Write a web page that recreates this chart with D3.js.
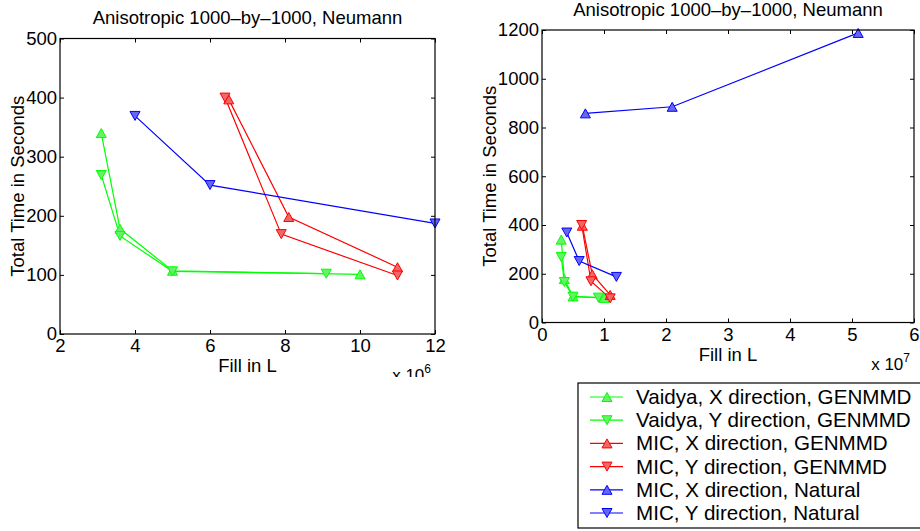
<!DOCTYPE html>
<html>
<head>
<meta charset="utf-8">
<script src="https://cdn.jsdelivr.net/npm/d3@7"></script>
<style>
  body { margin: 0; background: #fff; }
  svg { display: block; font-family: "Liberation Sans", Arial, Helvetica, sans-serif; }
</style>
</head>
<body>
<svg id="chart" width="920" height="531"></svg>
<script>
// fill in L (entries of the factor) vs total time in seconds
const vaidyaXFill = [3.1e6, 3.6e6, 5.0e6, 10.0e6];
const vaidyaXTime = [340, 178, 107, 101];
const vaidyaYFill = [3.1e6, 3.6e6, 5.0e6, 9.1e6];
const vaidyaYTime = [269, 166, 106, 102];
const micXGenFill = [6.5e6, 8.1e6, 11.0e6];
const micXGenTime = [397, 198, 113];
const micYGenFill = [6.4e6, 7.9e6, 11.0e6];
const micYGenTime = [400, 169, 99];
const micXNatFill = [7e6, 21e6, 51e6];
const micXNatTime = [858, 885, 1188];
const micYNatFill = [4e6, 6e6, 12e6];
const micYNatTime = [369, 252, 187];

const seriesNames = [
  "Vaidya, X direction, GENMMD",
  "Vaidya, Y direction, GENMMD",
  "MIC, X direction, GENMMD",
  "MIC, Y direction, GENMMD",
  "MIC, X direction, Natural",
  "MIC, Y direction, Natural"
];

const leftXTicks = [2, 4, 6, 8, 10, 12];     // x 10^6
const leftYTicks = [0, 100, 200, 300, 400, 500];
const rightXTicks = [0, 1, 2, 3, 4, 5, 6];   // x 10^7
const rightYTicks = [0, 200, 400, 600, 800, 1000, 1200];

const titleText = "Anisotropic 1000\u2013by\u20131000, Neumann";

// styles
const styles = [
  {stroke: "#00ff00", fill: "#66f266", up: true},
  {stroke: "#00ff00", fill: "#66f266", up: false},
  {stroke: "#ff0000", fill: "#f26666", up: true},
  {stroke: "#ff0000", fill: "#f26666", up: false},
  {stroke: "#0000ff", fill: "#6666f2", up: true},
  {stroke: "#0000ff", fill: "#6666f2", up: false}
];

const series = [
  [vaidyaXFill, vaidyaXTime], [vaidyaYFill, vaidyaYTime],
  [micXGenFill, micXGenTime], [micYGenFill, micYGenTime],
  [micXNatFill, micXNatTime], [micYNatFill, micYNatTime]
].map((s, i) => ({
  name: seriesNames[i],
  style: styles[i],
  points: s[0].map((f, j) => ({x: f, y: s[1][j]}))
}));

const svg = d3.select("#chart");
const FS = 18.5;

function triangle(up, w = 10, h = 9) {
  const s = up ? 1 : -1;
  return `M0,${-s * h / 2}L${w / 2},${s * h / 2}L${-w / 2},${s * h / 2}Z`;
}

function drawPanel(cfg, id) {
  const g = svg.append("g").attr("class", "panel-" + id);
  if (cfg.clipBottom) {
    svg.append("clipPath").attr("id", "pclip-" + id)
      .append("rect").attr("x", 0).attr("y", 0).attr("width", 920).attr("height", cfg.clipBottom);
    g.attr("clip-path", `url(#pclip-${id})`);
  }

  const x = d3.scaleLinear().domain(cfg.xDomain).range([cfg.left, cfg.right]);
  const y = d3.scaleLinear().domain(cfg.yDomain).range([cfg.bottom, cfg.top]);
  const w = cfg.right - cfg.left, h = cfg.bottom - cfg.top;

  g.append("rect").attr("x", cfg.left).attr("y", cfg.top)
    .attr("width", w).attr("height", h).attr("fill", "#fff");

  const tickLen = 4;
  const fmtX = d => d3.format("d")(d / cfg.xExp);

  const axes = [
    {gen: d3.axisBottom(x).tickValues(cfg.xTicks.map(t => t * cfg.xExp)).tickFormat(fmtX).tickPadding(5), tr: `translate(0,${cfg.bottom})`},
    {gen: d3.axisTop(x).tickValues(cfg.xTicks.map(t => t * cfg.xExp)).tickFormat(""), tr: `translate(0,${cfg.top})`},
    {gen: d3.axisLeft(y).tickValues(cfg.yTicks).tickFormat(d3.format("d")).tickPadding(3), tr: `translate(${cfg.left},0)`},
    {gen: d3.axisRight(y).tickValues(cfg.yTicks).tickFormat(""), tr: `translate(${cfg.right},0)`}
  ];
  axes.forEach(a => {
    const ag = g.append("g").attr("transform", a.tr)
      .call(a.gen.tickSizeInner(-tickLen).tickSizeOuter(0));
    ag.select(".domain").remove();
    ag.selectAll(".tick line").attr("stroke", "#000").attr("stroke-width", 1);
    ag.selectAll(".tick text").attr("fill", "#000").attr("font-size", FS)
      .attr("font-family", "Liberation Sans, Arial, Helvetica, sans-serif");
  });

  // data lines clipped to the axes
  const clipId = "aclip-" + id;
  svg.append("clipPath").attr("id", clipId)
    .append("rect").attr("x", cfg.left).attr("y", cfg.top).attr("width", w).attr("height", h);

  const line = d3.line().x(d => x(d.x)).y(d => y(d.y));
  const plot = g.append("g");
  plot.append("g").attr("clip-path", `url(#${clipId})`)
    .selectAll("path")
    .data(series)
    .join("path")
    .attr("d", d => line(d.points))
    .attr("fill", "none")
    .attr("stroke", d => d.style.stroke)
    .attr("stroke-width", 1.2);

  const inside = p => p.x >= cfg.xDomain[0] && p.x <= cfg.xDomain[1] &&
                      p.y >= cfg.yDomain[0] && p.y <= cfg.yDomain[1];
  series.forEach(s => {
    plot.append("g")
      .selectAll("path")
      .data(s.points.filter(inside))
      .join("path")
      .attr("transform", d => `translate(${x(d.x)},${y(d.y)})`)
      .attr("d", triangle(s.style.up))
      .attr("fill", s.style.fill)
      .attr("stroke", s.style.stroke)
      .attr("stroke-width", 1);
  });

  // box
  g.append("rect").attr("x", cfg.left).attr("y", cfg.top)
    .attr("width", w).attr("height", h)
    .attr("fill", "none").attr("stroke", "#000").attr("stroke-width", 1.2);

  const cx = (cfg.left + cfg.right) / 2, cy = (cfg.top + cfg.bottom) / 2;
  g.append("text").attr("x", cx).attr("y", cfg.top - cfg.titleGap)
    .attr("text-anchor", "middle").attr("font-size", FS).text(titleText);
  g.append("text").attr("x", cx).attr("y", cfg.bottom + 38)
    .attr("text-anchor", "middle").attr("font-size", FS).text("Fill in L");
  g.append("text")
    .attr("transform", `translate(${cfg.left - cfg.ylabGap},${cy}) rotate(-90)`)
    .attr("text-anchor", "middle").attr("font-size", FS).text("Total Time in Seconds");

  const ex = g.append("text").attr("x", cfg.right - 4).attr("y", cfg.bottom + 47)
    .attr("text-anchor", "end").attr("font-size", 17);
  ex.append("tspan").text("x 10");
  ex.append("tspan").attr("font-size", 12).attr("dy", -8).text(cfg.expLabel);
}

drawPanel({
  left: 60, right: 435, top: 38.5, bottom: 334,
  xDomain: [2e6, 12e6], yDomain: [0, 500], xExp: 1e6, expLabel: "6",
  xTicks: leftXTicks, yTicks: leftYTicks,
  titleGap: 15, ylabGap: 36, clipBottom: 377
}, "left");

drawPanel({
  left: 542, right: 914, top: 30, bottom: 322.5,
  xDomain: [0, 6e7], yDomain: [0, 1200], xExp: 1e7, expLabel: "7",
  xTicks: rightXTicks, yTicks: rightYTicks,
  titleGap: 14, ylabGap: 46
}, "right");

// legend
const legX = 578, legY = 383, legH = 145, rowH = 23.2;
const leg = svg.append("g").attr("class", "legend");
leg.append("rect").attr("x", legX).attr("y", legY).attr("width", 360).attr("height", legH)
  .attr("fill", "#fff").attr("stroke", "#000").attr("stroke-width", 1.2);
const rows = leg.selectAll("g.row").data(series).join("g").attr("class", "row")
  .attr("transform", (d, i) => `translate(${legX},${legY + 14 + i * rowH})`);
rows.append("line").attr("x1", 12).attr("x2", 45).attr("y1", 0).attr("y2", 0)
  .attr("stroke", d => d.style.stroke).attr("stroke-width", 1.2);
rows.append("path").attr("transform", "translate(29,0)")
  .attr("d", d => triangle(d.style.up))
  .attr("fill", d => d.style.fill).attr("stroke", d => d.style.stroke);
rows.append("text").attr("x", 58).attr("y", 7).attr("font-size", 20.6).text(d => d.name);
</script>
</body>
</html>
